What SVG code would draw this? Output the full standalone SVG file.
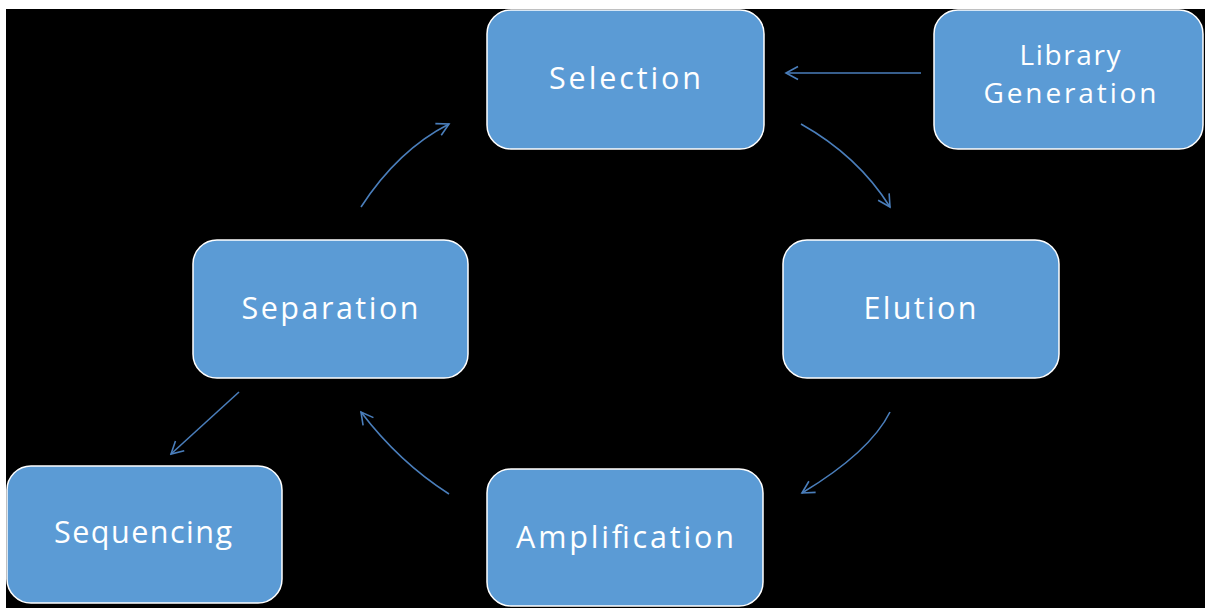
<svg xmlns="http://www.w3.org/2000/svg" width="1205" height="608" viewBox="0 0 1205 608">
<style>
.box{fill:#5b9bd5;stroke:#ffffff;stroke-width:1.5}
.lbl{fill:#ffffff;font-family:"Open Sans","Noto Sans","Liberation Sans",sans-serif;font-size:30.5px;text-anchor:middle}
.sm{font-size:28px}
.con{fill:none;stroke:#4a7ebb;stroke-width:1.6}
</style>
<defs>
<marker id="arr" markerUnits="userSpaceOnUse" markerWidth="16" markerHeight="16" viewBox="0 0 16 16" refX="14" refY="8" orient="auto">
<path d="M2,1.5 L14,8 L2,14.5" fill="none" stroke="#4a7ebb" stroke-width="1.6"/>
</marker>
</defs>
<rect x="0" y="0" width="1205" height="608" fill="#ffffff"/>
<rect x="6" y="9" width="1199" height="599" fill="#000000"/>
<g id="connectors">
<path class="con" d="M921,73 L786,73" marker-end="url(#arr)"/>
<path class="con" d="M801,124 Q858,156 890,207" marker-end="url(#arr)"/>
<path class="con" d="M890,412 Q870,452 802,493" marker-end="url(#arr)"/>
<path class="con" d="M449,494 Q399,462 361,412" marker-end="url(#arr)"/>
<path class="con" d="M361,207 Q398,150 449,124" marker-end="url(#arr)"/>
<path class="con" d="M239,392 L171,454" marker-end="url(#arr)"/>
</g>
<g id="selection">
<rect class="box" x="487" y="10" width="277" height="139" rx="24"/>
<text class="lbl" x="625" y="89" textLength="152" lengthAdjust="spacing">Selection</text>
</g>
<g id="library">
<rect class="box" x="934" y="10" width="269" height="139" rx="24"/>
<text class="lbl sm" x="1070" y="65" textLength="101" lengthAdjust="spacing">Library</text>
<text class="lbl sm" x="1070" y="103" textLength="173" lengthAdjust="spacing">Generation</text>
</g>
<g id="elution">
<rect class="box" x="783" y="240" width="276" height="138" rx="24"/>
<text class="lbl" x="920" y="319" textLength="113" lengthAdjust="spacing">Elution</text>
</g>
<g id="separation">
<rect class="box" x="193" y="240" width="275" height="138" rx="24"/>
<text class="lbl" x="330" y="319" textLength="177" lengthAdjust="spacing">Separation</text>
</g>
<g id="sequencing">
<rect class="box" x="7" y="466" width="275" height="137" rx="24"/>
<text class="lbl" x="143" y="543" textLength="178" lengthAdjust="spacing">Sequencing</text>
</g>
<g id="amplification">
<rect class="box" x="487" y="469" width="276" height="137" rx="24"/>
<text class="lbl" x="625" y="548" textLength="218" lengthAdjust="spacing">Amplification</text>
</g>
</svg>
